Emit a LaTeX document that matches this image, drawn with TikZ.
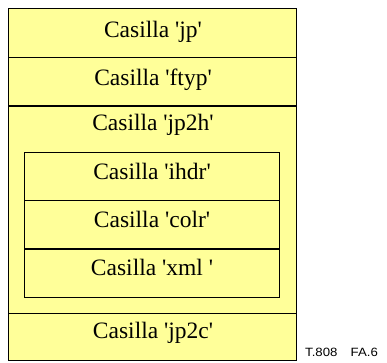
\documentclass[tikz,border=0pt]{standalone}
\usepackage{fontspec}
\setmainfont{Liberation Serif}
\newfontfamily\labelfont{Liberation Sans}
\definecolor{boxfill}{RGB}{255,255,153}
\begin{document}
\begin{tikzpicture}[x=1pt,y=-1pt,
  boxrow/.style={draw=black, fill=boxfill, line width=1.5pt, inner sep=0pt, outer sep=0pt, rectangle},
  lbl/.style={anchor=base, inner sep=0pt, font=\fontsize{23.5}{26}\selectfont},
  note/.style={anchor=base west, inner sep=0pt, font=\labelfont\fontsize{12}{14}\selectfont}]
\useasboundingbox (0,0) rectangle (387,362);
% outer rows
\node[boxrow, minimum width=288pt, minimum height=49pt] (jp) at (152.5,33) {};
\node[boxrow, minimum width=288pt, minimum height=48.5pt] (ftyp) at (152.5,81.75) {};
\node[boxrow, minimum width=288pt, minimum height=207.5pt] (jp2h) at (152.5,209.75) {};
\node[boxrow, minimum width=288pt, minimum height=47pt] (jp2c) at (152.5,337) {};
% inner rows
\node[boxrow, minimum width=255pt, minimum height=48pt] (ihdr) at (152,176.5) {};
\node[boxrow, minimum width=255pt, minimum height=48.5pt] (colr) at (152,224.75) {};
\node[boxrow, minimum width=255pt, minimum height=48.5pt] (xml) at (152,273.25) {};
% labels
\node[lbl] (tjp) at (153,37.7) {Casilla \textquotesingle jp\textquotesingle};
\node[lbl] (tftyp) at (153,85) {Casilla \textquotesingle ftyp\textquotesingle};
\node[lbl] (tjp2h) at (153,130.7) {Casilla \textquotesingle jp2h\textquotesingle};
\node[lbl] (tihdr) at (152,179) {Casilla \textquotesingle ihdr\textquotesingle};
\node[lbl] (tcolr) at (152,227) {Casilla \textquotesingle colr\textquotesingle};
\node[lbl] (txml) at (152,275.3) {Casilla \textquotesingle xml \textquotesingle};
\node[lbl] (tjp2c) at (153,338.3) {Casilla \textquotesingle jp2c\textquotesingle};
\node[note] (fig) at (305,356) {\scalebox{1.1}[1]{T.808\hspace{12pt}FA.6}};
\end{tikzpicture}
\end{document}
